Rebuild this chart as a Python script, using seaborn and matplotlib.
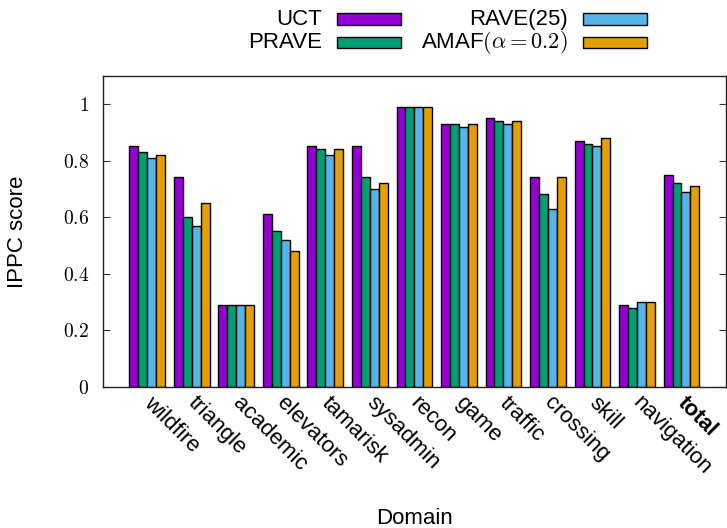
import numpy as np
import pandas as pd
import matplotlib
matplotlib.use("Agg")
import matplotlib.pyplot as plt
from matplotlib.patches import Rectangle
from matplotlib.transforms import ScaledTranslation
import seaborn as sns

domains = ["wildfire", "triangle", "academic", "elevators", "tamarisk", "sysadmin",
           "recon", "game", "traffic", "crossing", "skill", "navigation", "total"]
methods = ["UCT", "PRAVE", "RAVE(25)", "AMAF$(\\alpha = 0.2)$"]
uct   = [0.85, 0.74, 0.29, 0.61, 0.85, 0.85, 0.99, 0.93, 0.95, 0.74, 0.87, 0.29, 0.75]
prave = [0.83, 0.60, 0.29, 0.55, 0.84, 0.74, 0.99, 0.93, 0.94, 0.68, 0.86, 0.28, 0.72]
rave  = [0.81, 0.57, 0.29, 0.52, 0.82, 0.70, 0.99, 0.92, 0.93, 0.63, 0.85, 0.30, 0.69]
amaf  = [0.82, 0.65, 0.29, 0.48, 0.84, 0.72, 0.99, 0.93, 0.94, 0.74, 0.88, 0.30, 0.71]
yticks = [0, 0.2, 0.4, 0.6, 0.8, 1]
ytick_labels = ["$0$", "$0.2$", "$0.4$", "$0.6$", "$0.8$", "$1$"]
colors = ["#9400D3", "#009E73", "#56B4E9", "#E69F00"]

sns.set_theme(style="white")
plt.rcParams["font.family"] = ["Liberation Sans", "DejaVu Sans"]
plt.rcParams["mathtext.fontset"] = "cm"
plt.rcParams["text.color"] = "black"
plt.rcParams["xtick.color"] = "black"
plt.rcParams["ytick.color"] = "black"
plt.rcParams["xtick.labelcolor"] = "black"
plt.rcParams["ytick.labelcolor"] = "black"

series = [uct, prave, rave, amaf]
rows = []
for m, vals in zip(methods, series):
    for d, v in zip(domains, vals):
        rows.append({"domain": d, "method": m, "score": v})
df = pd.DataFrame(rows)

W, H = 727, 528
fig = plt.figure(figsize=(W / 100, H / 100), dpi=100)
ax = fig.add_axes([102.7 / W, 1 - 386.7 / H, (726 - 102.7) / W, (386.7 - 75.7) / H])

sns.barplot(data=df, x="domain", y="score", hue="method", order=domains,
            hue_order=methods, palette=colors, width=0.8, edgecolor="black",
            linewidth=1.0, saturation=1, legend=False, ax=ax)

ax.set_xlim(-1, 13)
ax.set_ylim(0, 1.1)
ax.set_yticks(yticks)
ax.set_yticklabels(ytick_labels, fontsize=14)
ax.tick_params(axis="y", direction="in", length=5, width=0.8, color="#333333",
               labelcolor="black", right=True, left=True, pad=10)
ax.tick_params(axis="x", length=0, pad=4, labelcolor="black")
shift = ScaledTranslation(5 / 72, 0, fig.dpi_scale_trans)
for lab in ax.get_xticklabels():
    lab.set_rotation(-45)
    lab.set_ha("left")
    lab.set_va("top")
    lab.set_rotation_mode("anchor")
    lab.set_fontsize(16)
    lab.set_transform(lab.get_transform() + shift)
ax.get_xticklabels()[-1].set_fontweight("bold")
ax.set_xlabel("")
ax.set_ylabel("")
for s in ax.spines.values():
    s.set_visible(True)
    s.set_color("#222222")
    s.set_linewidth(1.0)

fig.text(17.5 / W, 1 - 231.5 / H, "IPPC score", rotation=90, ha="center",
         va="center", fontsize=16, color="black")
fig.text(414 / W, 1 - 524.5 / H, "Domain", ha="center", va="baseline", fontsize=16,
         color="black")

# legend (two columns, text right-aligned before swatch)
text_right = [321.7, 321.7, 568, 568]
box_left = [336.7, 336.7, 582.7, 582.7]
baseline = [25, 48.3, 25, 48.3]
box_top = [13.3, 36.7, 13.3, 36.7]
bw, bh = 64, 11.7
for m, c, tx, bx, by, bt in zip(methods, colors, text_right, box_left, baseline, box_top):
    fig.text(tx / W, 1 - by / H, m, ha="right", va="baseline", fontsize=16,
             color="black")
    fig.patches.append(Rectangle((bx / W, 1 - (bt + bh) / H), bw / W, bh / H,
                                 transform=fig.transFigure, facecolor=c,
                                 edgecolor="black", linewidth=1.0, figure=fig))

fig.savefig("out.png", dpi=100)
